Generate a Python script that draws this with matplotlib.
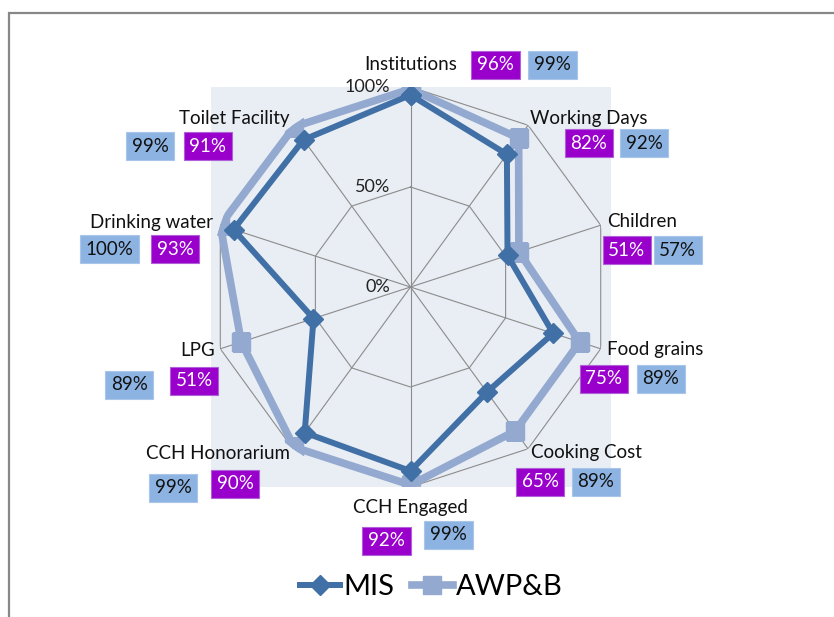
import numpy as np
import matplotlib.pyplot as plt
from matplotlib.patches import Rectangle

plt.rcParams['font.family'] = ['Lato', 'DejaVu Sans']

categories = ['Institutions', 'Working Days', 'Children', 'Food grains', 'Cooking Cost',
              'CCH Engaged', 'CCH Honorarium', 'LPG', 'Drinking water', 'Toilet Facility']
mis = [96, 82, 51, 75, 65, 92, 90, 51, 93, 91]
awpb = [99, 92, 57, 89, 89, 99, 99, 89, 100, 99]
ring_values = [0, 50, 100]
ring_labels = ['0%', '50%', '100%']

# label offsets (pixels) from the outer vertex of each spoke
cat_off = [(0, 22), (61, 7), (41, 4), (54, -1), (58, -4),
           (0, -20), (-75, -5), (-23, -2), (-69, 3), (-59, 7)]
mis_off = [(85, 22), (61, -18), (26, -25), (3, -30), (12, -33),
           (-24, -54), (-58, -35), (-26, -32), (-45, -24), (-85, -21)]
awp_off = [(142, 22), (116, -18), (77, -25), (60, -30), (68, -33),
           (38, -48), (-120, -39), (-91, -36), (-111, -24), (-143, -21)]

c_mis = '#4170A6'
c_awp = '#93A9CF'
c_purple = '#9900CC'
c_lblue = '#8DB3E2'
c_grid = '#8C8C8C'

W, H = 834, 617
fig = plt.figure(figsize=(W / 100, H / 100), dpi=100)

# outer frame (runs off right/bottom edge)
fig.patches.append(Rectangle((9 / W, -0.1), 1.2, (H - 13) / H + 0.1, transform=fig.transFigure,
                             fill=False, edgecolor='#888888', lw=1.6))

rect = [210.5 / W, 130 / H, 400 / W, 400 / H]
bg = fig.add_axes(rect)
bg.set_facecolor('#E9EDF4')
for s in bg.spines.values():
    s.set_visible(False)
bg.set_xticks([])
bg.set_yticks([])

ax = fig.add_axes(rect, projection='polar')
ax.patch.set_alpha(0)
ax.set_theta_offset(np.pi / 2)
ax.set_theta_direction(-1)
ax.set_ylim(0, 100)
ax.grid(False)
ax.set_xticks([])
ax.set_yticks([])
ax.spines['polar'].set_visible(False)

n = len(categories)
theta = np.linspace(0, 2 * np.pi, n, endpoint=False)
tc = np.append(theta, theta[0])

for r in ring_values[1:]:
    ax.plot(tc, [r] * (n + 1), color=c_grid, lw=0.8, zorder=1)
for t in theta:
    ax.plot([t, t], [0, 100], color=c_grid, lw=0.8, zorder=1)

ax.plot(tc, awpb + awpb[:1], color=c_awp, lw=5.5, marker='s', markersize=13,
        label='AWP&B', zorder=3)
ax.plot(tc, mis + mis[:1], color=c_mis, lw=4.3, marker='D', markersize=10,
        label='MIS', zorder=4)

for r, lab in zip(ring_values, ring_labels):
    ax.annotate(lab, xy=(0, r), xytext=(-20, 0), textcoords='offset pixels',
                ha='right', va='center', fontsize=13, color='#222222', zorder=5)

for i, t in enumerate(theta):
    ax.annotate(categories[i], xy=(t, 100), xytext=cat_off[i], textcoords='offset pixels',
                ha='center', va='center', fontsize=13.5, color='#111111', zorder=6,
                annotation_clip=False)
    ax.annotate(f'{mis[i]}%', xy=(t, 100), xytext=mis_off[i], textcoords='offset pixels',
                ha='center', va='center', fontsize=13.5, color='white', zorder=6,
                annotation_clip=False,
                bbox=dict(boxstyle='square,pad=0.3', fc=c_purple, ec='#B060D8', lw=0.8))
    ax.annotate(f'{awpb[i]}%', xy=(t, 100), xytext=awp_off[i], textcoords='offset pixels',
                ha='center', va='center', fontsize=13.5, color='#111111', zorder=6,
                annotation_clip=False,
                bbox=dict(boxstyle='square,pad=0.3', fc=c_lblue, ec='#A9C6EA', lw=0.8))

handles, labels = ax.get_legend_handles_labels()
fig.legend(handles[::-1], labels[::-1], loc='center', bbox_to_anchor=(431 / W, 30 / H),
           ncol=2, frameon=False, fontsize=21, handlelength=1.4, handletextpad=0.1,
           columnspacing=0.6, markerscale=1.0)

fig.savefig('out.png', dpi=100)
